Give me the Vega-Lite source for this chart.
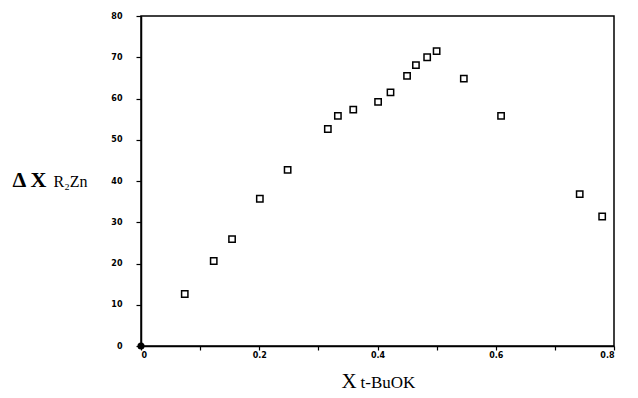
{
  "$schema": "https://vega.github.io/schema/vega-lite/v6.json",
  "width": 473,
  "height": 330,
  "autosize": {"type": "none"},
  "padding": {"left": 141, "top": 16, "right": 24, "bottom": 52},
  "background": "white",
  "config": {
    "view": {"stroke": "black", "strokeWidth": 1.5},
    "axis": {"grid": false}
  },
  "datasets": {
    "points": [
      {"x": 0.074, "y": 12.6},
      {"x": 0.123, "y": 20.6},
      {"x": 0.154, "y": 25.9},
      {"x": 0.201, "y": 35.7},
      {"x": 0.248, "y": 42.7},
      {"x": 0.316, "y": 52.6},
      {"x": 0.333, "y": 55.8},
      {"x": 0.359, "y": 57.3},
      {"x": 0.401, "y": 59.2},
      {"x": 0.422, "y": 61.5},
      {"x": 0.450, "y": 65.5},
      {"x": 0.465, "y": 68.1},
      {"x": 0.484, "y": 70.0},
      {"x": 0.500, "y": 71.5},
      {"x": 0.546, "y": 64.8},
      {"x": 0.609, "y": 55.8},
      {"x": 0.742, "y": 36.8},
      {"x": 0.780, "y": 31.4}
    ],
    "origin": [{"x": 0, "y": 0}]
  },
  "layer": [
    {
      "data": {"name": "points"},
      "mark": {"type": "point", "shape": "square", "filled": false, "stroke": "black", "strokeWidth": 1.5, "size": 40, "fill": "white", "opacity": 1},
      "encoding": {
        "x": {
          "field": "x", "type": "quantitative",
          "scale": {"domain": [0, 0.8], "nice": false, "zero": true},
          "axis": {
            "orient": "bottom",
            "values": [0, 0.1, 0.2, 0.3, 0.4, 0.5, 0.6, 0.7, 0.8],
            "labelExpr": "round(datum.value*10) % 2 == 0 ? format(datum.value, '.1~f') : ''",
            "tickSize": 4, "tickWidth": 1.2, "tickColor": "black",
            "domainColor": "black", "domainWidth": 1.5,
            "labelFont": "DejaVu Sans", "labelFontSize": 8, "labelFontWeight": "bold", "labelColor": "black", "labelPadding": 1,
            "title": "X", "titleFont": "Liberation Serif", "titleFontSize": 21, "titleFontWeight": "normal", "titleColor": "black",
            "titleX": 200, "titleY": 41, "titleAlign": "left", "titleBaseline": "alphabetic"
          }
        },
        "y": {
          "field": "y", "type": "quantitative",
          "scale": {"domain": [0, 80], "nice": false},
          "axis": {
            "orient": "left",
            "values": [0, 10, 20, 30, 40, 50, 60, 70, 80],
            "tickSize": 5, "tickWidth": 1.2, "tickColor": "black",
            "domainColor": "black", "domainWidth": 1.5,
            "labelFont": "DejaVu Sans", "labelFontSize": 8, "labelFontWeight": "bold", "labelColor": "black", "labelPadding": 14,
            "title": "Δ X", "titleFont": "Liberation Serif", "titleFontSize": 22, "titleFontWeight": "bold", "titleColor": "black",
            "titleAngle": 0, "titleX": -129, "titleY": 170, "titleAlign": "left", "titleBaseline": "alphabetic"
          }
        }
      }
    },
    {
      "data": {"name": "origin"},
      "mark": {"type": "circle", "color": "black", "size": 50, "opacity": 1},
      "encoding": {
        "x": {
          "field": "x", "type": "quantitative",
          "axis": {
            "orient": "bottom", "labels": false, "ticks": false, "domain": false,
            "title": "t-BuOK", "titleFont": "Liberation Serif", "titleFontSize": 17, "titleFontWeight": "normal", "titleColor": "black",
            "titleX": 219, "titleY": 41, "titleAlign": "left", "titleBaseline": "alphabetic"
          }
        },
        "y": {
          "field": "y", "type": "quantitative",
          "axis": {
            "orient": "left", "labels": false, "ticks": false, "domain": false,
            "title": "R₂Zn", "titleFont": "Liberation Serif", "titleFontSize": 16, "titleFontWeight": "normal", "titleColor": "black",
            "titleAngle": 0, "titleX": -88, "titleY": 170, "titleAlign": "left", "titleBaseline": "alphabetic"
          }
        }
      }
    }
  ],
  "resolve": {"axis": {"x": "independent", "y": "independent"}}
}
